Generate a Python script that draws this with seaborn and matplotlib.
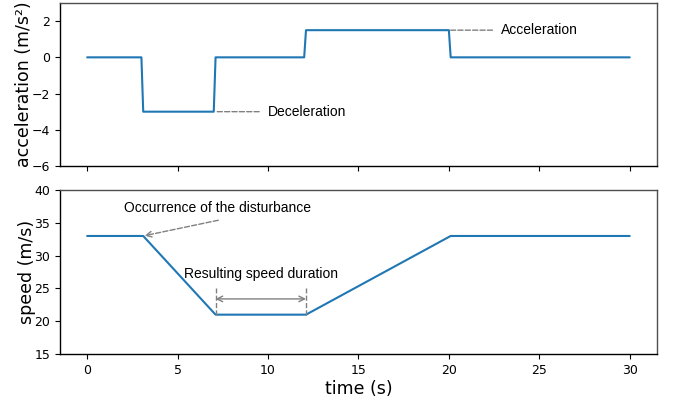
import matplotlib
matplotlib.use("Agg")
import matplotlib.pyplot as plt
import seaborn as sns
import pandas as pd

# acceleration profile (time in s, acceleration in m/s²)
acc_time = [0, 3.0, 3.1, 7.0, 7.1, 12.0, 12.1, 20.0, 20.1, 30]
acc_value = [0, 0, -3, -3, 0, 0, 1.5, 1.5, 0, 0]

# resulting speed profile (time in s, speed in m/s)
speed_time = [0, 3.1, 7.1, 12.1, 20.1, 30]
speed_value = [33, 33, 21, 21, 33, 33]

x_ticks = [0, 5, 10, 15, 20, 25, 30]
acc_ticks = [-6, -4, -2, 0, 2]
speed_ticks = [15, 20, 25, 30, 35, 40]

sns.set_style("ticks")
plt.rcParams["font.family"] = ["DejaVu Sans"]
plt.rcParams.update({"text.color": "black", "axes.labelcolor": "black",
                     "xtick.color": "black", "ytick.color": "black"})

fig = plt.figure(figsize=(6.73, 4.01), dpi=100)
ax1 = fig.add_axes([0.0892, 0.586, 0.8868, 0.4065])
ax2 = fig.add_axes([0.0892, 0.1172, 0.8868, 0.4088])

blue = "#1f77b4"
acc_df = pd.DataFrame({"t": acc_time, "a": acc_value})
speed_df = pd.DataFrame({"t": speed_time, "v": speed_value})

sns.lineplot(data=acc_df, x="t", y="a", ax=ax1, color=blue, lw=1.5,
             sort=False, estimator=None)
sns.lineplot(data=speed_df, x="t", y="v", ax=ax2, color=blue, lw=1.5,
             sort=False, estimator=None)

for ax in (ax1, ax2):
    ax.set_xlim(-1.5, 31.5)
    ax.set_xticks(x_ticks)
    ax.tick_params(labelsize=9, length=3.5, width=0.8, color="black")
    ax.spines["left"].set_color("black")
    ax.spines["bottom"].set_color("black")
    ax.spines["top"].set_color("0.3")
    ax.spines["right"].set_color("0.3")
    for s in ax.spines.values():
        s.set_linewidth(1.0)

ax1.set_ylim(-6, 3)
ax1.set_yticks(acc_ticks)
ax1.set_xticklabels([])
ax1.set_xlabel("")
ax1.set_ylabel("acceleration (m/s²)", fontsize=12.5, labelpad=-1)

ax2.set_ylim(15, 40)
ax2.set_yticks(speed_ticks)
ax2.set_xlabel("time (s)", fontsize=12.5, labelpad=2)
ax2.set_ylabel("speed (m/s)", fontsize=12.5, labelpad=-1)

ann_font = dict(fontsize=10, family=["Liberation Sans", "DejaVu Sans"])
dash = dict(arrowstyle="-", linestyle="--", color="gray", lw=1.0,
            shrinkA=4, shrinkB=0)

ax1.annotate("Deceleration", xy=(7.1, -3), xytext=(10.0, -3),
             ha="left", va="center", arrowprops=dash, **ann_font)
ax1.annotate("Acceleration", xy=(20.1, 1.5), xytext=(22.9, 1.5),
             ha="left", va="center", arrowprops=dash, **ann_font)

# disturbance onset marker
ax2.text(7.2, 37.3, "Occurrence of the disturbance", ha="center",
         va="center", **ann_font)
ax2.annotate("", xy=(3.1, 33), xytext=(7.25, 35.4),
             arrowprops=dict(arrowstyle="->", linestyle="--", color="gray",
                             lw=1.0, shrinkA=0, shrinkB=1))

# duration of the reduced speed plateau
plateau_start, plateau_end = 7.1, 12.1
ax2.vlines([plateau_start, plateau_end], 21, 25, colors="gray",
           linestyles="--", lw=1.0)
ax2.annotate("", xy=(plateau_start, 23.4), xytext=(plateau_end, 23.4),
             arrowprops=dict(arrowstyle="<->", color="gray", lw=1.0,
                             shrinkA=0, shrinkB=0))
ax2.text(9.6, 27.2, "Resulting speed duration", ha="center", va="center",
         **ann_font)

fig.savefig("out.png", dpi=100)
